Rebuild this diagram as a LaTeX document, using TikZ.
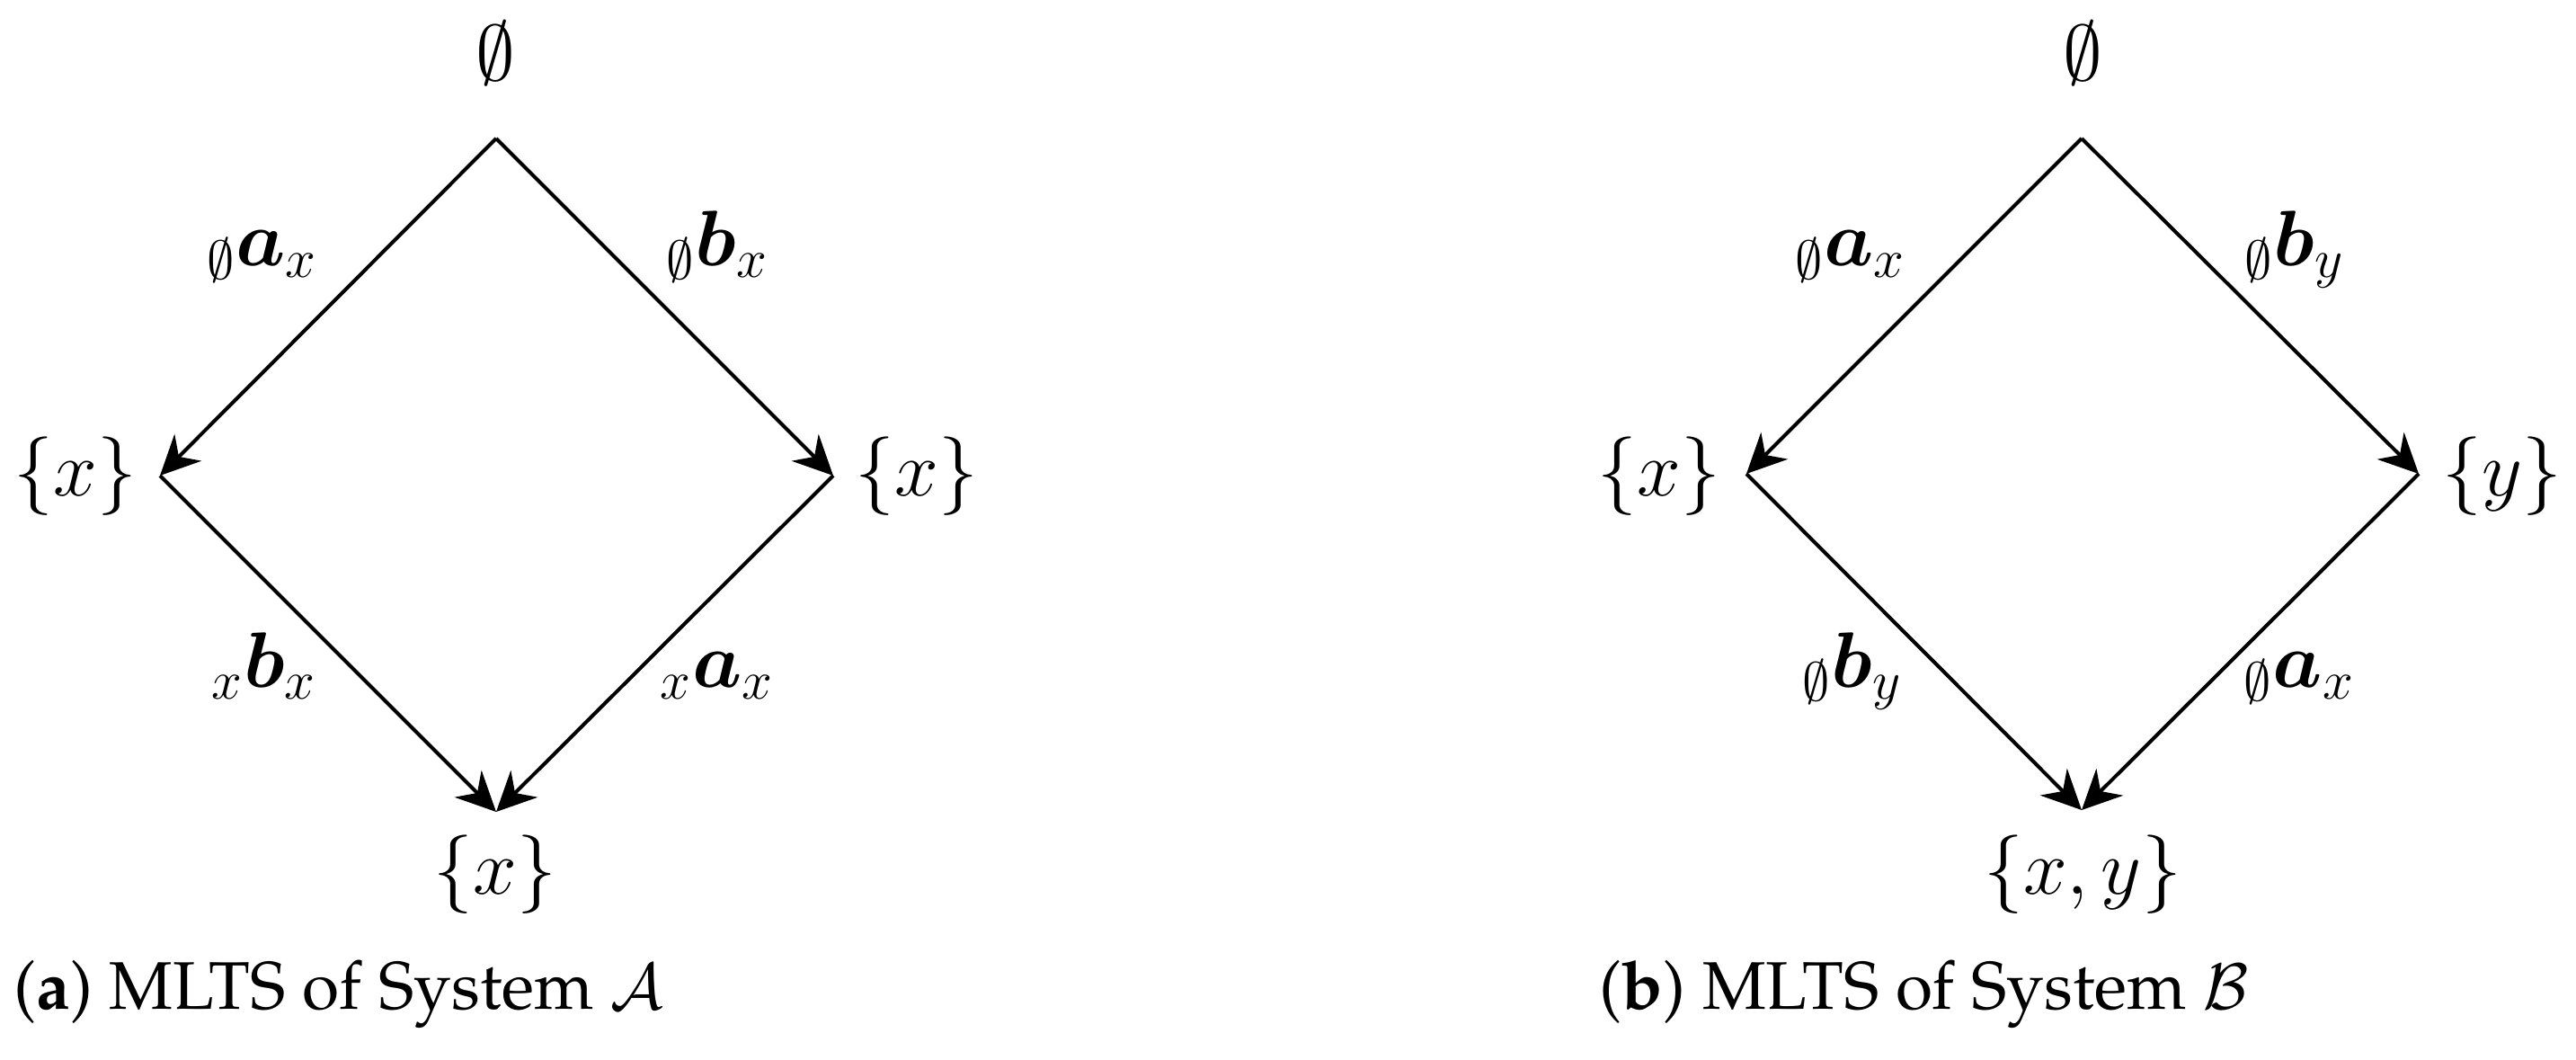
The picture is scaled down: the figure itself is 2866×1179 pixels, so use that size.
\documentclass[tikz,border=0pt]{standalone}
\usepackage{bm}
\usetikzlibrary{arrows.meta}
\tikzset{
  st/.style={font=\fontsize{23.5}{28}\selectfont, inner sep=0pt, anchor=base},
  topst/.style={font=\fontsize{25.5}{30}\selectfont, inner sep=0pt, anchor=base},
  lbl/.style={font=\fontsize{24.2}{29}\selectfont, inner sep=0pt, anchor=base},
  captext/.style={font=\fontencoding{T1}\fontfamily{ppl}\fontsize{21.3}{25}\selectfont, inner sep=0pt, anchor=base west},
  edge/.style={line width=1.15pt, -{Stealth[length=0.44cm,width=0.42cm]}}
}
\begin{document}
\begin{tikzpicture}[x=0.01cm,y=-0.01cm]
\useasboundingbox (0,0) rectangle (2866,1179);
% ---------- System A ----------
\coordinate (At) at (552,154);
\coordinate (Al) at (178,529);
\coordinate (Ar) at (927,529);
\coordinate (Ab) at (552,903);
\node[topst] (A0) at (551,90) {$\emptyset$};
\node[st] (A1) at (84,551) {$\{x\}$};
\node[st] (A2) at (1020,551) {$\{x\}$};
\node[st] (A3) at (551,994) {$\{x\}$};
\draw[edge] (At) -- (Al);
\draw[edge] (At) -- (Ar);
\draw[edge] (Al) -- (Ab);
\draw[edge] (Ar) -- (Ab);
\node[lbl] (la1) at (292,295) {${}_{\emptyset}\bm{a}_{x}$};
\node[lbl] (la2) at (798,295) {${}_{\emptyset}\bm{b}_{x}$};
\node[lbl] (la3) at (294,764) {${}_{x}\bm{b}_{x}$};
\node[lbl] (la4) at (798,764) {${}_{x}\bm{a}_{x}$};
\node[captext] (capA) at (15,1122) {(\textbf{a}) MLTS of System $\mathcal{A}$};
% ---------- System B ----------
\coordinate (Bt) at (2316,154);
\coordinate (Bl) at (1943,527);
\coordinate (Br) at (2691,527);
\coordinate (Bb) at (2316,901);
\node[topst] (B0) at (2317,90) {$\emptyset$};
\node[st] (B1) at (1846,551) {$\{x\}$};
\node[st] (B2) at (2784,551) {$\{y\}$};
\node[st] (B3) at (2317,994) {$\{x,y\}$};
\draw[edge] (Bt) -- (Bl);
\draw[edge] (Bt) -- (Br);
\draw[edge] (Bl) -- (Bb);
\draw[edge] (Br) -- (Bb);
\node[lbl] (lb1) at (2059,295) {${}_{\emptyset}\bm{a}_{x}$};
\node[lbl] (lb2) at (2553,295) {${}_{\emptyset}\bm{b}_{y}$};
\node[lbl] (lb3) at (2061,764) {${}_{\emptyset}\bm{b}_{y}$};
\node[lbl] (lb4) at (2558,764) {${}_{\emptyset}\bm{a}_{x}$};
\node[captext] (capB) at (1779,1122) {(\textbf{b}) MLTS of System $\mathcal{B}$};
\end{tikzpicture}
\end{document}
